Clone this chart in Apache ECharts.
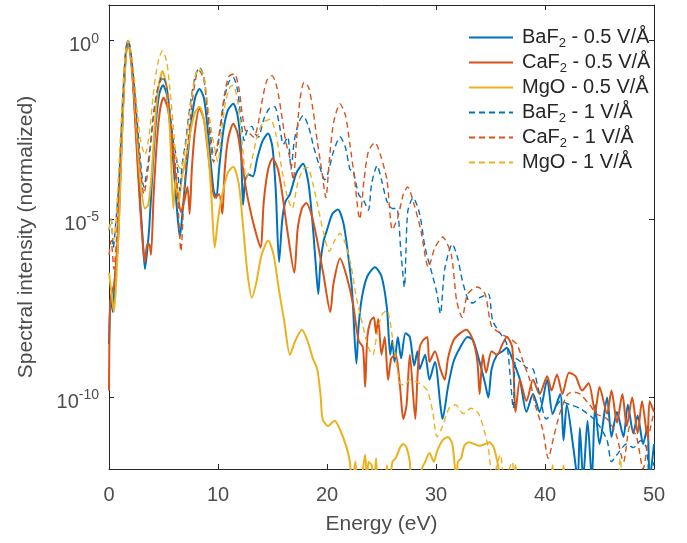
<!DOCTYPE html>
<html><head><meta charset="utf-8">
<script src="https://cdn.jsdelivr.net/npm/echarts@6/dist/echarts.min.js"></script>
<style>html,body{margin:0;padding:0;background:#fff}#c{width:687px;height:543px}</style>
</head><body><div id="c"></div>
<script>
// ---- data (x = energy in eV, value = log10 of normalized spectral intensity) ----
const xTicks = [0, 10, 20, 30, 40, 50];
const yTickExponents = [-10, -5, 0];
const seriesNames = ['BaF2 - 0.5 V/Å', 'CaF2 - 0.5 V/Å', 'MgO - 0.5 V/Å', 'BaF2 - 1 V/Å', 'CaF2 - 1 V/Å', 'MgO - 1 V/Å'];

const baf2_05 = [[0,-8.5],[0.15,-7.2],[0.35,-7.6],[0.55,-6.6],[0.8,-5.8],[1.05,-3.8],[1.3,-1.8],[1.55,-0.4],[1.75,0],[1.95,-0.3],[2.2,-1.1],[2.5,-2.6],[2.8,-4.2],[3.1,-5.6],[3.3,-6.4],[3.5,-5.9],[3.7,-5.2],[4.0,-3.6],[4.3,-2.3],[4.6,-1.5],[4.95,-1.25],[5.3,-1.5],[5.6,-2.3],[5.9,-3.4],[6.2,-4.6],[6.5,-5.5],[6.8,-4.6],[7.1,-3.6],[7.5,-2.4],[7.9,-1.6],[8.3,-1.35],[8.7,-1.6],[9.0,-2.3],[9.3,-3.3],[9.6,-4.2],[9.85,-4.4],[10.1,-3.6],[10.5,-2.5],[10.9,-1.95],[11.4,-1.77],[11.8,-2.1],[12.1,-3.0],[12.3,-4.6],[12.5,-3.9],[12.8,-3.75],[13.2,-3.8],[13.6,-3.3],[14.1,-2.8],[14.6,-2.6],[15.0,-3.0],[15.3,-4.2],[15.6,-6.2],[15.9,-5.0],[16.2,-4.5],[16.6,-4.3],[17.2,-3.7],[17.8,-3.45],[18.3,-4.0],[18.7,-5.2],[19.0,-6.4],[19.2,-7.1],[19.4,-6.2],[19.7,-5.6],[20.0,-5.3],[20.5,-4.85],[21.0,-4.73],[21.5,-5.1],[21.9,-5.9],[22.3,-7.0],[22.7,-9.05],[22.9,-8.0],[23.2,-7.2],[23.7,-6.6],[24.4,-6.35],[25.0,-6.6],[25.5,-7.5],[25.8,-8.8],[26.0,-8.4],[26.2,-9.0],[26.5,-8.3],[26.8,-8.9],[27.2,-8.2],[27.6,-8.3],[28.0,-9.1],[28.3,-8.7],[28.5,-9.2],[29.0,-8.8],[29.4,-9.5],[29.9,-9.0],[30.4,-10.2],[30.6,-10.6],[31.1,-9.7],[31.6,-9.0],[32.2,-8.6],[32.9,-8.3],[33.4,-8.4],[34.0,-9.0],[34.5,-9.6],[34.8,-10.0],[35.1,-9.2],[35.6,-8.8],[36.1,-8.7],[36.5,-8.6],[37.1,-9.0],[37.7,-9.5],[38.3,-10.4],[38.9,-9.9],[39.5,-10.4],[40.2,-9.5],[40.7,-10.45],[41.4,-9.9],[41.7,-11.2],[42.0,-10.2],[42.6,-11.4],[43.0,-12.3],[43.2,-10.85],[43.5,-12.3],[43.9,-10.65],[44.3,-12.3],[44.6,-10.2],[45.0,-11.3],[45.7,-10.0],[46.1,-11.1],[46.6,-10.4],[47.2,-11.1],[47.6,-10.2],[48.1,-11.0],[48.5,-10.5],[49.0,-11.3],[49.4,-10.8],[49.6,-12.3],[50.0,-11.3]];

const caf2_05 = [[0,-9.8],[0.1,-7.4],[0.3,-7.0],[0.5,-6.8],[0.8,-5.5],[1.05,-3.6],[1.3,-1.7],[1.55,-0.35],[1.75,0],[1.95,-0.35],[2.2,-1.2],[2.5,-2.8],[2.8,-4.4],[3.1,-5.7],[3.3,-6.2],[3.5,-5.7],[3.7,-5.7],[3.85,-6.0],[4.1,-4.3],[4.4,-2.8],[4.7,-1.9],[5.0,-1.6],[5.4,-1.9],[5.7,-2.6],[6.0,-3.5],[6.3,-4.3],[6.6,-4.8],[6.9,-4.5],[7.2,-4.1],[7.4,-4.85],[7.6,-3.6],[7.9,-2.5],[8.3,-1.9],[8.7,-2.2],[9.0,-2.9],[9.3,-3.7],[9.7,-4.4],[10.1,-4.3],[10.4,-4.85],[10.6,-3.7],[10.9,-2.8],[11.4,-2.33],[11.8,-2.6],[12.2,-3.4],[12.6,-4.2],[13.0,-4.8],[13.4,-5.3],[13.9,-5.8],[14.2,-4.5],[14.6,-3.6],[15.0,-3.3],[15.5,-3.6],[15.9,-4.3],[16.4,-5.4],[17.0,-6.5],[17.3,-5.3],[17.7,-4.7],[18.1,-4.55],[18.6,-4.9],[19.1,-5.6],[19.7,-6.6],[20.3,-7.6],[20.6,-6.8],[21.2,-6.1],[21.8,-6.6],[22.4,-7.4],[22.9,-8.4],[23.3,-8.6],[23.5,-9.7],[23.7,-8.3],[24.0,-7.85],[24.3,-7.75],[24.5,-8.2],[24.7,-7.8],[25.0,-8.8],[25.3,-8.3],[25.6,-9.5],[25.9,-8.9],[26.3,-8.8],[26.7,-9.7],[27.0,-10.6],[27.3,-10.2],[27.6,-8.8],[28.1,-10.6],[28.3,-9.4],[28.5,-8.6],[28.8,-8.4],[29.2,-8.3],[29.4,-9.0],[29.9,-8.7],[30.4,-9.2],[30.8,-9.5],[31.1,-8.9],[31.6,-8.4],[32.2,-8.2],[32.8,-8.1],[33.4,-8.4],[33.8,-9.0],[34.0,-9.9],[34.3,-8.8],[34.6,-9.3],[35.1,-8.7],[35.6,-8.8],[36.1,-8.5],[36.5,-8.3],[37.0,-8.6],[37.3,-10.4],[37.7,-9.5],[38.3,-10.1],[38.9,-9.5],[39.5,-9.9],[40.2,-9.4],[40.6,-9.8],[41.1,-9.35],[41.6,-9.9],[42.2,-9.3],[42.8,-9.4],[43.4,-9.8],[44.0,-9.6],[44.6,-10.4],[45.0,-9.7],[45.7,-10.45],[46.1,-9.8],[46.6,-10.7],[47.1,-9.9],[47.5,-10.8],[48.0,-10.0],[48.5,-11.0],[48.9,-10.1],[49.4,-11.1],[49.6,-10.1],[50.0,-10.4]];

const mgo_05 = [[0,-6.5],[0.2,-7.0],[0.45,-7.6],[0.7,-6.5],[0.95,-4.8],[1.2,-2.6],[1.45,-0.9],[1.75,0],[2.0,-0.4],[2.3,-1.4],[2.6,-2.8],[2.9,-4.0],[3.3,-4.7],[3.6,-4.6],[3.9,-3.8],[4.2,-2.4],[4.5,-1.4],[4.9,-0.85],[5.3,-1.3],[5.6,-2.6],[5.9,-4.7],[6.1,-3.9],[6.4,-4.5],[6.7,-3.8],[7.0,-3.4],[7.5,-2.5],[7.9,-2.0],[8.3,-1.85],[8.7,-2.2],[9.1,-3.1],[9.4,-4.4],[9.7,-5.8],[10.0,-5.0],[10.4,-4.3],[10.9,-3.7],[11.4,-3.53],[11.9,-4.0],[12.3,-5.2],[12.7,-6.5],[13.1,-7.2],[13.5,-6.8],[14.0,-6.0],[14.6,-5.6],[15.1,-6.0],[15.6,-7.0],[16.1,-7.9],[16.6,-8.8],[17.1,-8.4],[17.7,-8.1],[18.2,-8.4],[18.7,-8.9],[19.1,-9.2],[19.4,-9.9],[19.6,-10.6],[20.1,-10.8],[20.3,-10.75],[20.7,-10.65],[21.2,-10.9],[21.8,-11.4],[22.1,-11.8],[22.3,-12.5],[22.6,-11.8],[22.8,-12.5],[23.1,-12.4],[23.5,-11.6],[23.7,-12.5],[23.8,-11.8],[24.1,-11.9],[24.3,-12.5],[24.5,-11.7],[24.7,-12.5],[25.3,-12.5],[25.5,-11.9],[25.7,-12.5],[26.0,-11.8],[26.3,-11.7],[26.7,-11.4],[27.0,-11.3],[27.3,-11.4],[27.6,-11.8],[27.8,-12.5],[28.5,-12.5],[28.7,-12.0],[29.0,-11.8],[29.4,-11.55],[29.8,-11.8],[30.1,-11.5],[30.6,-11.2],[31.1,-11.1],[31.5,-11.3],[31.9,-12.4],[32.0,-11.8],[32.3,-11.7],[32.6,-11.35],[33.0,-11.25],[33.5,-11.3],[34.0,-11.35],[34.5,-11.3],[34.9,-11.25],[35.3,-11.4],[35.7,-11.9],[36.1,-12.5],[37.0,-12.5],[37.3,-11.9],[37.5,-12.5],[40.5,-12.5],[40.7,-11.9],[40.9,-12.5],[41.5,-12.5],[41.7,-11.9],[41.9,-12.5],[50,-12.5]];

const baf2_1 = [[0,-5.3],[0.2,-5.0],[0.4,-5.8],[0.6,-5.2],[0.9,-4.0],[1.2,-2.0],[1.5,-0.4],[1.75,0],[2.0,-0.3],[2.3,-1.2],[2.6,-2.3],[2.9,-3.4],[3.2,-4.1],[3.5,-3.6],[3.8,-2.9],[4.1,-2.0],[4.5,-1.3],[4.9,-1.0],[5.3,-1.3],[5.6,-2.0],[5.9,-2.8],[6.2,-3.3],[6.5,-4.2],[6.7,-3.5],[7.0,-2.9],[7.4,-1.9],[7.9,-1.0],[8.3,-0.75],[8.7,-1.0],[9.0,-1.8],[9.3,-2.6],[9.6,-3.2],[9.9,-3.1],[10.2,-2.5],[10.6,-1.6],[11.0,-1.15],[11.4,-1.03],[11.8,-1.4],[12.1,-2.2],[12.4,-2.8],[12.7,-2.5],[13.1,-2.4],[13.4,-2.6],[13.7,-2.7],[14.2,-2.2],[14.7,-1.9],[15.2,-1.85],[15.6,-2.3],[16.0,-2.9],[16.4,-2.7],[16.7,-3.6],[17.0,-2.8],[17.4,-2.3],[17.8,-2.1],[18.3,-2.4],[18.8,-3.0],[19.3,-3.5],[19.8,-3.9],[20.1,-3.7],[20.6,-3.1],[21.2,-2.7],[21.7,-3.0],[22.1,-3.6],[22.4,-3.65],[22.9,-4.3],[23.4,-4.5],[23.8,-4.75],[24.1,-4.0],[24.6,-3.5],[25.0,-3.9],[25.5,-4.5],[26.0,-4.7],[26.4,-4.7],[26.8,-6.0],[27.1,-6.9],[27.4,-4.8],[27.9,-4.4],[28.5,-4.85],[29.0,-5.8],[29.7,-6.6],[30.1,-7.1],[30.4,-7.65],[30.8,-6.4],[31.5,-5.7],[32.0,-6.1],[32.4,-6.7],[33.0,-7.3],[33.4,-7.35],[34.0,-7.2],[34.8,-7.1],[35.2,-7.85],[35.9,-8.2],[36.5,-8.5],[37.1,-10.3],[37.3,-8.9],[37.8,-9.0],[38.3,-9.16],[38.9,-9.2],[39.5,-9.9],[40.1,-10.6],[40.7,-10.45],[41.4,-10.1],[42.3,-10.2],[43.2,-10.3],[44.3,-10.55],[45.0,-10.8],[45.7,-11.2],[46.1,-11.8],[46.6,-11.6],[47.5,-11.3],[48.1,-11.4],[48.8,-11.2],[49.3,-11.4],[49.6,-12.3],[50,-11.8]];

const caf2_1 = [[0,-6.0],[0.2,-5.6],[0.45,-6.4],[0.7,-5.5],[0.95,-3.8],[1.2,-2.0],[1.5,-0.4],[1.75,0],[2.0,-0.35],[2.3,-1.3],[2.6,-2.6],[2.9,-3.6],[3.2,-4.3],[3.5,-3.8],[3.8,-3.0],[4.1,-2.1],[4.5,-1.3],[4.9,-1.07],[5.3,-1.3],[5.6,-2.1],[5.9,-3.0],[6.2,-3.8],[6.6,-5.9],[6.9,-4.2],[7.2,-3.0],[7.6,-1.8],[8.0,-1.0],[8.3,-0.85],[8.7,-1.1],[9.0,-1.9],[9.3,-2.8],[9.6,-3.4],[9.9,-3.0],[10.2,-2.4],[10.6,-1.5],[11.0,-1.0],[11.5,-0.93],[11.9,-1.3],[12.2,-2.0],[12.5,-2.5],[12.9,-2.6],[13.3,-2.7],[13.7,-2.3],[14.1,-1.6],[14.5,-1.1],[14.95,-0.98],[15.4,-1.3],[15.8,-2.0],[16.2,-2.8],[16.6,-3.3],[16.9,-3.9],[17.2,-2.8],[17.5,-1.7],[17.9,-1.17],[18.3,-1.3],[18.7,-1.9],[19.1,-2.8],[19.5,-3.6],[19.9,-4.4],[20.2,-3.4],[20.6,-2.3],[21.2,-1.77],[21.7,-2.1],[22.1,-2.9],[22.5,-3.8],[23.0,-5.0],[23.4,-3.9],[23.8,-3.1],[24.4,-2.85],[24.9,-3.2],[25.5,-3.9],[26.0,-5.3],[26.5,-4.95],[27.0,-4.3],[27.4,-4.1],[28.0,-4.6],[28.6,-5.3],[29.3,-6.35],[29.9,-5.8],[30.6,-5.5],[31.4,-6.0],[31.9,-7.3],[32.4,-7.75],[32.9,-7.1],[33.8,-6.9],[34.5,-7.1],[35.1,-8.0],[35.9,-8.2],[36.5,-8.3],[37.4,-8.5],[38.0,-9.0],[38.6,-9.5],[39.1,-10.2],[39.8,-10.9],[40.3,-11.7],[40.8,-11.1],[41.4,-10.4],[42.1,-9.9],[42.7,-9.85],[43.2,-9.9],[44.1,-10.2],[44.7,-10.45],[45.7,-10.6],[46.5,-11.0],[47.2,-11.8],[47.8,-10.8],[48.4,-11.1],[49.0,-12.0],[49.5,-11.1],[50.0,-10.4]];

const mgo_1 = [[0,-5.3],[0.2,-5.0],[0.4,-5.6],[0.65,-5.0],[0.9,-3.6],[1.2,-1.8],[1.5,-0.35],[1.75,0],[2.0,-0.3],[2.3,-1.0],[2.6,-2.0],[2.9,-2.8],[3.3,-3.2],[3.7,-2.6],[4.1,-1.4],[4.5,-0.6],[4.9,-0.28],[5.3,-0.6],[5.6,-1.4],[5.9,-2.4],[6.2,-3.4],[6.6,-3.6],[7.0,-3.0],[7.4,-2.0],[7.9,-1.0],[8.3,-0.78],[8.7,-1.0],[9.1,-1.9],[9.5,-2.7],[10.0,-3.4],[10.3,-2.6],[10.7,-1.7],[11.1,-1.3],[11.4,-1.25],[11.8,-1.7],[12.2,-2.8],[12.6,-3.85],[13.0,-3.5],[13.5,-2.8],[14.1,-2.3],[14.8,-2.2],[15.3,-2.6],[15.8,-3.5],[16.3,-4.3],[16.8,-4.7],[17.3,-4.0],[17.8,-3.6],[18.2,-3.55],[18.7,-4.0],[19.2,-4.7],[19.7,-5.4],[20.2,-5.9],[20.7,-5.6],[21.2,-5.4],[21.7,-5.7],[22.2,-6.3],[22.7,-7.2],[23.3,-8.0],[23.8,-8.6],[24.2,-8.8],[24.6,-8.2],[25.0,-7.7],[25.5,-7.55],[26.0,-8.3],[26.7,-9.6],[27.1,-9.65],[27.6,-9.5],[28.5,-9.6],[29.2,-9.8],[29.7,-10.4],[30.1,-11.1],[30.6,-10.8],[31.2,-10.3],[31.8,-10.2],[32.5,-10.45],[33.2,-10.3],[33.9,-10.45],[34.4,-10.9],[34.8,-11.4],[35.2,-12.3],[35.9,-11.6],[36.3,-12.4],[37.0,-11.8],[37.4,-12.4],[46.5,-12.4],[46.9,-11.7],[47.3,-12.4],[50,-12.4]];

// ---- chart ----
const FONT = '"Liberation Sans", Arial, Helvetica, sans-serif';
const AX = '#262626', TXT = '#4d4d4d';
const colors = ['#0072BD', '#D95319', '#EDB120'];
const dataSets = [baf2_05, caf2_05, mgo_05, baf2_1, caf2_1, mgo_1];
const toPoints = arr => arr.map(p => [p[0], Math.pow(10, p[1])]);
const yTickValues = yTickExponents.map(e => Math.pow(10, e));

const series = dataSets.map((d, i) => ({
  name: seriesNames[i],
  type: 'line',
  data: toPoints(d),
  showSymbol: false, symbol: 'none',
  smooth: 0.25,
  clip: true,
  xAxisIndex: 0, yAxisIndex: 0,
  lineStyle: i < 3 ? {color: colors[i], width: 2} : {color: colors[i % 3], width: 1.4, type: [6, 4]},
  itemStyle: {color: colors[i % 3]},
  emphasis: {disabled: true}
}));

const xCommon = {
  type: 'value', min: 0, max: 50, interval: 10,
  axisLine: {show: true, onZero: false, lineStyle: {color: AX, width: 1}},
  axisTick: {show: true, inside: true, length: 5, lineStyle: {color: AX}},
  splitLine: {show: false}
};
const yCommon = {
  type: 'log', logBase: 10, min: 1e-12, max: 10,
  axisLine: {show: true, onZero: false, lineStyle: {color: AX, width: 1}},
  axisTick: {show: true, inside: true, length: 5, lineStyle: {color: AX}, customValues: yTickValues},
  minorTick: {show: false},
  splitLine: {show: false}
};

const option = {
  animation: false,
  backgroundColor: '#fff',
  grid: {left: 109, top: 5, width: 545, height: 464, containLabel: false},
  xAxis: [
    Object.assign({}, xCommon, {
      position: 'bottom',
      axisLabel: {fontSize: 20, color: TXT, fontFamily: FONT, margin: 16},
      name: 'Energy (eV)', nameLocation: 'middle', nameGap: 45,
      nameTextStyle: {fontSize: 21, color: TXT, fontFamily: FONT}
    }),
    Object.assign({}, xCommon, {position: 'top', axisLabel: {show: false}})
  ],
  yAxis: [
    Object.assign({}, yCommon, {
      position: 'left',
      axisLabel: {
        customValues: yTickValues, margin: 10, padding: [10, 0, 0, 0],
        formatter: v => '{b|10}{s|' + Math.round(Math.log10(v)) + '}',
        rich: {
          b: {fontSize: 20, lineHeight: 28, color: TXT, fontFamily: FONT},
          s: {fontSize: 14, verticalAlign: 'top', color: TXT, fontFamily: FONT}
        }
      },
      name: 'Spectral intensity (normalized)', nameLocation: 'middle', nameGap: 72, nameRotate: 90,
      nameTextStyle: {fontSize: 21, color: TXT, fontFamily: FONT}
    }),
    Object.assign({}, yCommon, {position: 'right', axisLabel: {show: false}})
  ],
  legend: {
    orient: 'vertical', left: 468, top: 25, padding: 0, itemGap: 0,
    itemWidth: 44, itemHeight: 25,
    data: seriesNames,
    itemStyle: {opacity: 0},
    formatter: n => n.replace('F2', 'F{sub|2}'),
    textStyle: {
      fontSize: 20, color: '#262626', fontFamily: FONT, lineHeight: 25, padding: [0, 0, 0, 4],
      rich: {sub: {fontSize: 13, lineHeight: 14, verticalAlign: 'bottom', color: '#262626', fontFamily: FONT}}
    },
    selectedMode: false
  },
  series: series
};

const chart = echarts.init(document.getElementById('c'), null, {renderer: 'canvas'});
chart.setOption(option);
</script>
</body></html>
